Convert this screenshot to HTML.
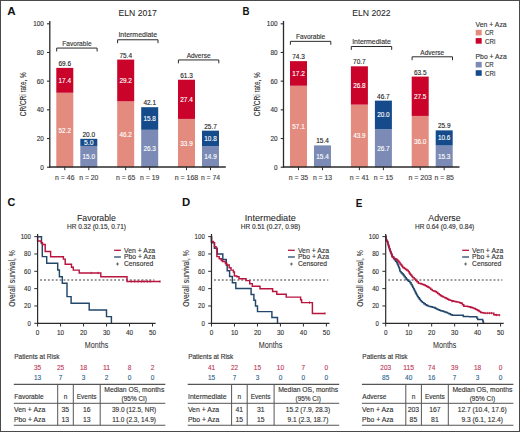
<!DOCTYPE html>
<html><head><meta charset="utf-8"><title>Figure</title>
<style>
html,body{margin:0;padding:0;background:#fff;}
body{width:520px;height:432px;overflow:hidden;}
svg{display:block;font-family:"Liberation Sans", sans-serif;}
</style></head>
<body>
<svg width="520" height="432" viewBox="0 0 520 432">
<rect x="0" y="0" width="520" height="432" fill="#fff"/>
<line x1="49.80" y1="21.00" x2="49.80" y2="167.70" stroke="#2b2b2b" stroke-width="1.3"/>
<line x1="47.00" y1="167.20" x2="49.80" y2="167.20" stroke="#2b2b2b" stroke-width="1.1"/>
<text x="43.80" y="169.70" font-size="7.1" text-anchor="end" fill="#333" stroke="#333" stroke-width="0.13" textLength="3.55" lengthAdjust="spacingAndGlyphs">0</text>
<line x1="47.00" y1="138.52" x2="49.80" y2="138.52" stroke="#2b2b2b" stroke-width="1.1"/>
<text x="43.80" y="141.02" font-size="7.1" text-anchor="end" fill="#333" stroke="#333" stroke-width="0.13" textLength="7.10" lengthAdjust="spacingAndGlyphs">20</text>
<line x1="47.00" y1="109.84" x2="49.80" y2="109.84" stroke="#2b2b2b" stroke-width="1.1"/>
<text x="43.80" y="112.34" font-size="7.1" text-anchor="end" fill="#333" stroke="#333" stroke-width="0.13" textLength="7.10" lengthAdjust="spacingAndGlyphs">40</text>
<line x1="47.00" y1="81.16" x2="49.80" y2="81.16" stroke="#2b2b2b" stroke-width="1.1"/>
<text x="43.80" y="83.66" font-size="7.1" text-anchor="end" fill="#333" stroke="#333" stroke-width="0.13" textLength="7.10" lengthAdjust="spacingAndGlyphs">60</text>
<line x1="47.00" y1="52.48" x2="49.80" y2="52.48" stroke="#2b2b2b" stroke-width="1.1"/>
<text x="43.80" y="54.98" font-size="7.1" text-anchor="end" fill="#333" stroke="#333" stroke-width="0.13" textLength="7.10" lengthAdjust="spacingAndGlyphs">80</text>
<line x1="47.00" y1="23.80" x2="49.80" y2="23.80" stroke="#2b2b2b" stroke-width="1.1"/>
<text x="43.80" y="26.30" font-size="7.1" text-anchor="end" fill="#333" stroke="#333" stroke-width="0.13" textLength="10.65" lengthAdjust="spacingAndGlyphs">100</text>
<text x="23.5" y="94.2" font-size="8.3" text-anchor="middle" fill="#333" stroke="#333" stroke-width="0.13" transform="rotate(-90 23.5 94.2)" dy="2.9" textLength="44" lengthAdjust="spacingAndGlyphs">CR/CRi rate, %</text>
<text x="137.70" y="15.80" font-size="9.6" text-anchor="middle" fill="#222" stroke="#222" stroke-width="0.05" textLength="38.40" lengthAdjust="spacingAndGlyphs">ELN 2017</text>
<rect x="56.30" y="92.75" width="17.00" height="74.65" fill="#E38B7E"/>
<rect x="56.30" y="67.87" width="17.00" height="24.88" fill="#C9032A"/>
<rect x="80.30" y="145.95" width="17.00" height="21.45" fill="#7C8BB5"/>
<rect x="80.30" y="138.80" width="17.00" height="7.15" fill="#154B8A"/>
<text x="64.80" y="132.53" font-size="7.0" text-anchor="middle" fill="#fff" stroke="#fff" stroke-width="0.13" textLength="12.50" lengthAdjust="spacingAndGlyphs">52.2</text>
<text x="64.80" y="82.76" font-size="7.0" text-anchor="middle" fill="#fff" stroke="#fff" stroke-width="0.13" textLength="12.50" lengthAdjust="spacingAndGlyphs">17.4</text>
<text x="88.80" y="159.12" font-size="7.0" text-anchor="middle" fill="#fff" stroke="#fff" stroke-width="0.13" textLength="12.50" lengthAdjust="spacingAndGlyphs">15.0</text>
<text x="88.80" y="144.82" font-size="7.0" text-anchor="middle" fill="#fff" stroke="#fff" stroke-width="0.13" textLength="9.50" lengthAdjust="spacingAndGlyphs">5.0</text>
<text x="64.80" y="65.87" font-size="7.0" text-anchor="middle" fill="#222" stroke="#222" stroke-width="0.13" textLength="12.60" lengthAdjust="spacingAndGlyphs">69.6</text>
<text x="88.80" y="136.80" font-size="7.0" text-anchor="middle" fill="#222" stroke="#222" stroke-width="0.13" textLength="12.60" lengthAdjust="spacingAndGlyphs">20.0</text>
<line x1="64.80" y1="167.00" x2="64.80" y2="170.20" stroke="#2b2b2b" stroke-width="1.0"/>
<line x1="88.80" y1="167.00" x2="88.80" y2="170.20" stroke="#2b2b2b" stroke-width="1.0"/>
<text x="64.80" y="179.70" font-size="6.4" text-anchor="middle" fill="#444" stroke="#444" stroke-width="0.13" textLength="19.40" lengthAdjust="spacingAndGlyphs">n = 46</text>
<text x="88.80" y="179.70" font-size="6.4" text-anchor="middle" fill="#444" stroke="#444" stroke-width="0.13" textLength="19.20" lengthAdjust="spacingAndGlyphs">n = 20</text>
<path d="M56.70,51.47 V48.07 H97.10 V51.47" fill="none" stroke="#2b2b2b" stroke-width="1.0"/>
<text x="76.90" y="45.77" font-size="7.1" text-anchor="middle" fill="#333" stroke="#333" stroke-width="0.13" textLength="29.30" lengthAdjust="spacingAndGlyphs">Favorable</text>
<rect x="117.20" y="101.33" width="17.00" height="66.07" fill="#E38B7E"/>
<rect x="117.20" y="59.58" width="17.00" height="41.76" fill="#C9032A"/>
<rect x="141.20" y="129.79" width="17.00" height="37.61" fill="#7C8BB5"/>
<rect x="141.20" y="107.20" width="17.00" height="22.59" fill="#154B8A"/>
<text x="125.70" y="136.82" font-size="7.0" text-anchor="middle" fill="#fff" stroke="#fff" stroke-width="0.13" textLength="12.50" lengthAdjust="spacingAndGlyphs">46.2</text>
<text x="125.70" y="82.91" font-size="7.0" text-anchor="middle" fill="#fff" stroke="#fff" stroke-width="0.13" textLength="12.50" lengthAdjust="spacingAndGlyphs">29.2</text>
<text x="149.70" y="151.05" font-size="7.0" text-anchor="middle" fill="#fff" stroke="#fff" stroke-width="0.13" textLength="12.50" lengthAdjust="spacingAndGlyphs">26.3</text>
<text x="149.70" y="120.94" font-size="7.0" text-anchor="middle" fill="#fff" stroke="#fff" stroke-width="0.13" textLength="12.50" lengthAdjust="spacingAndGlyphs">15.8</text>
<text x="125.70" y="57.58" font-size="7.0" text-anchor="middle" fill="#222" stroke="#222" stroke-width="0.13" textLength="12.60" lengthAdjust="spacingAndGlyphs">75.4</text>
<text x="149.70" y="105.20" font-size="7.0" text-anchor="middle" fill="#222" stroke="#222" stroke-width="0.13" textLength="12.60" lengthAdjust="spacingAndGlyphs">42.1</text>
<line x1="125.70" y1="167.00" x2="125.70" y2="170.20" stroke="#2b2b2b" stroke-width="1.0"/>
<line x1="149.70" y1="167.00" x2="149.70" y2="170.20" stroke="#2b2b2b" stroke-width="1.0"/>
<text x="125.70" y="179.70" font-size="6.4" text-anchor="middle" fill="#444" stroke="#444" stroke-width="0.13" textLength="19.40" lengthAdjust="spacingAndGlyphs">n = 65</text>
<text x="149.70" y="179.70" font-size="6.4" text-anchor="middle" fill="#444" stroke="#444" stroke-width="0.13" textLength="19.20" lengthAdjust="spacingAndGlyphs">n = 19</text>
<path d="M117.60,43.18 V39.78 H158.00 V43.18" fill="none" stroke="#2b2b2b" stroke-width="1.0"/>
<text x="137.80" y="37.48" font-size="7.1" text-anchor="middle" fill="#333" stroke="#333" stroke-width="0.13" textLength="38.70" lengthAdjust="spacingAndGlyphs">Intermediate</text>
<rect x="178.00" y="118.92" width="17.00" height="48.48" fill="#E38B7E"/>
<rect x="178.00" y="79.74" width="17.00" height="39.18" fill="#C9032A"/>
<rect x="202.00" y="146.09" width="17.00" height="21.31" fill="#7C8BB5"/>
<rect x="202.00" y="130.65" width="17.00" height="15.44" fill="#154B8A"/>
<text x="186.50" y="145.61" font-size="7.0" text-anchor="middle" fill="#fff" stroke="#fff" stroke-width="0.13" textLength="12.50" lengthAdjust="spacingAndGlyphs">33.9</text>
<text x="186.50" y="101.78" font-size="7.0" text-anchor="middle" fill="#fff" stroke="#fff" stroke-width="0.13" textLength="12.50" lengthAdjust="spacingAndGlyphs">27.4</text>
<text x="210.50" y="159.20" font-size="7.0" text-anchor="middle" fill="#fff" stroke="#fff" stroke-width="0.13" textLength="12.50" lengthAdjust="spacingAndGlyphs">14.9</text>
<text x="210.50" y="140.82" font-size="7.0" text-anchor="middle" fill="#fff" stroke="#fff" stroke-width="0.13" textLength="12.50" lengthAdjust="spacingAndGlyphs">10.8</text>
<text x="186.50" y="77.74" font-size="7.0" text-anchor="middle" fill="#222" stroke="#222" stroke-width="0.13" textLength="12.60" lengthAdjust="spacingAndGlyphs">61.3</text>
<text x="210.50" y="128.65" font-size="7.0" text-anchor="middle" fill="#222" stroke="#222" stroke-width="0.13" textLength="12.60" lengthAdjust="spacingAndGlyphs">25.7</text>
<line x1="186.50" y1="167.00" x2="186.50" y2="170.20" stroke="#2b2b2b" stroke-width="1.0"/>
<line x1="210.50" y1="167.00" x2="210.50" y2="170.20" stroke="#2b2b2b" stroke-width="1.0"/>
<text x="186.50" y="179.70" font-size="6.4" text-anchor="middle" fill="#444" stroke="#444" stroke-width="0.13" textLength="23.50" lengthAdjust="spacingAndGlyphs">n = 168</text>
<text x="210.50" y="179.70" font-size="6.4" text-anchor="middle" fill="#444" stroke="#444" stroke-width="0.13" textLength="19.20" lengthAdjust="spacingAndGlyphs">n = 74</text>
<path d="M178.40,63.34 V59.94 H218.80 V63.34" fill="none" stroke="#2b2b2b" stroke-width="1.0"/>
<text x="198.60" y="57.64" font-size="7.1" text-anchor="middle" fill="#333" stroke="#333" stroke-width="0.13" textLength="23.90" lengthAdjust="spacingAndGlyphs">Adverse</text>
<line x1="49.20" y1="167.00" x2="225.80" y2="167.00" stroke="#2b2b2b" stroke-width="1.3"/>
<line x1="283.50" y1="21.00" x2="283.50" y2="167.70" stroke="#2b2b2b" stroke-width="1.3"/>
<line x1="280.70" y1="167.20" x2="283.50" y2="167.20" stroke="#2b2b2b" stroke-width="1.1"/>
<text x="277.50" y="169.70" font-size="7.1" text-anchor="end" fill="#333" stroke="#333" stroke-width="0.13" textLength="3.55" lengthAdjust="spacingAndGlyphs">0</text>
<line x1="280.70" y1="138.52" x2="283.50" y2="138.52" stroke="#2b2b2b" stroke-width="1.1"/>
<text x="277.50" y="141.02" font-size="7.1" text-anchor="end" fill="#333" stroke="#333" stroke-width="0.13" textLength="7.10" lengthAdjust="spacingAndGlyphs">20</text>
<line x1="280.70" y1="109.84" x2="283.50" y2="109.84" stroke="#2b2b2b" stroke-width="1.1"/>
<text x="277.50" y="112.34" font-size="7.1" text-anchor="end" fill="#333" stroke="#333" stroke-width="0.13" textLength="7.10" lengthAdjust="spacingAndGlyphs">40</text>
<line x1="280.70" y1="81.16" x2="283.50" y2="81.16" stroke="#2b2b2b" stroke-width="1.1"/>
<text x="277.50" y="83.66" font-size="7.1" text-anchor="end" fill="#333" stroke="#333" stroke-width="0.13" textLength="7.10" lengthAdjust="spacingAndGlyphs">60</text>
<line x1="280.70" y1="52.48" x2="283.50" y2="52.48" stroke="#2b2b2b" stroke-width="1.1"/>
<text x="277.50" y="54.98" font-size="7.1" text-anchor="end" fill="#333" stroke="#333" stroke-width="0.13" textLength="7.10" lengthAdjust="spacingAndGlyphs">80</text>
<line x1="280.70" y1="23.80" x2="283.50" y2="23.80" stroke="#2b2b2b" stroke-width="1.1"/>
<text x="277.50" y="26.30" font-size="7.1" text-anchor="end" fill="#333" stroke="#333" stroke-width="0.13" textLength="10.65" lengthAdjust="spacingAndGlyphs">100</text>
<text x="257.2" y="94.2" font-size="8.3" text-anchor="middle" fill="#333" stroke="#333" stroke-width="0.13" transform="rotate(-90 257.2 94.2)" dy="2.9" textLength="44" lengthAdjust="spacingAndGlyphs">CR/CRi rate, %</text>
<text x="371.40" y="15.80" font-size="9.6" text-anchor="middle" fill="#222" stroke="#222" stroke-width="0.05" textLength="38.40" lengthAdjust="spacingAndGlyphs">ELN 2022</text>
<rect x="290.00" y="85.75" width="17.00" height="81.65" fill="#E38B7E"/>
<rect x="290.00" y="61.15" width="17.00" height="24.60" fill="#C9032A"/>
<rect x="314.00" y="145.38" width="17.00" height="22.02" fill="#7C8BB5"/>
<text x="298.50" y="129.02" font-size="7.0" text-anchor="middle" fill="#fff" stroke="#fff" stroke-width="0.13" textLength="12.50" lengthAdjust="spacingAndGlyphs">57.1</text>
<text x="298.50" y="75.90" font-size="7.0" text-anchor="middle" fill="#fff" stroke="#fff" stroke-width="0.13" textLength="12.50" lengthAdjust="spacingAndGlyphs">17.2</text>
<text x="322.50" y="158.84" font-size="7.0" text-anchor="middle" fill="#fff" stroke="#fff" stroke-width="0.13" textLength="12.50" lengthAdjust="spacingAndGlyphs">15.4</text>
<text x="298.50" y="59.15" font-size="7.0" text-anchor="middle" fill="#222" stroke="#222" stroke-width="0.13" textLength="12.60" lengthAdjust="spacingAndGlyphs">74.3</text>
<text x="322.50" y="143.38" font-size="7.0" text-anchor="middle" fill="#222" stroke="#222" stroke-width="0.13" textLength="12.60" lengthAdjust="spacingAndGlyphs">15.4</text>
<line x1="298.50" y1="167.00" x2="298.50" y2="170.20" stroke="#2b2b2b" stroke-width="1.0"/>
<line x1="322.50" y1="167.00" x2="322.50" y2="170.20" stroke="#2b2b2b" stroke-width="1.0"/>
<text x="298.50" y="179.70" font-size="6.4" text-anchor="middle" fill="#444" stroke="#444" stroke-width="0.13" textLength="19.40" lengthAdjust="spacingAndGlyphs">n = 35</text>
<text x="322.50" y="179.70" font-size="6.4" text-anchor="middle" fill="#444" stroke="#444" stroke-width="0.13" textLength="19.20" lengthAdjust="spacingAndGlyphs">n = 13</text>
<path d="M290.40,44.75 V41.35 H330.80 V44.75" fill="none" stroke="#2b2b2b" stroke-width="1.0"/>
<text x="310.60" y="39.05" font-size="7.1" text-anchor="middle" fill="#333" stroke="#333" stroke-width="0.13" textLength="29.30" lengthAdjust="spacingAndGlyphs">Favorable</text>
<rect x="350.90" y="104.62" width="17.00" height="62.78" fill="#E38B7E"/>
<rect x="350.90" y="66.30" width="17.00" height="38.32" fill="#C9032A"/>
<rect x="374.90" y="129.22" width="17.00" height="38.18" fill="#7C8BB5"/>
<rect x="374.90" y="100.62" width="17.00" height="28.60" fill="#154B8A"/>
<text x="359.40" y="138.46" font-size="7.0" text-anchor="middle" fill="#fff" stroke="#fff" stroke-width="0.13" textLength="12.50" lengthAdjust="spacingAndGlyphs">43.9</text>
<text x="359.40" y="87.91" font-size="7.0" text-anchor="middle" fill="#fff" stroke="#fff" stroke-width="0.13" textLength="12.50" lengthAdjust="spacingAndGlyphs">26.8</text>
<text x="383.40" y="150.76" font-size="7.0" text-anchor="middle" fill="#fff" stroke="#fff" stroke-width="0.13" textLength="12.50" lengthAdjust="spacingAndGlyphs">26.7</text>
<text x="383.40" y="117.37" font-size="7.0" text-anchor="middle" fill="#fff" stroke="#fff" stroke-width="0.13" textLength="12.50" lengthAdjust="spacingAndGlyphs">20.0</text>
<text x="359.40" y="64.30" font-size="7.0" text-anchor="middle" fill="#222" stroke="#222" stroke-width="0.13" textLength="12.60" lengthAdjust="spacingAndGlyphs">70.7</text>
<text x="383.40" y="98.62" font-size="7.0" text-anchor="middle" fill="#222" stroke="#222" stroke-width="0.13" textLength="12.60" lengthAdjust="spacingAndGlyphs">46.7</text>
<line x1="359.40" y1="167.00" x2="359.40" y2="170.20" stroke="#2b2b2b" stroke-width="1.0"/>
<line x1="383.40" y1="167.00" x2="383.40" y2="170.20" stroke="#2b2b2b" stroke-width="1.0"/>
<text x="359.40" y="179.70" font-size="6.4" text-anchor="middle" fill="#444" stroke="#444" stroke-width="0.13" textLength="19.40" lengthAdjust="spacingAndGlyphs">n = 41</text>
<text x="383.40" y="179.70" font-size="6.4" text-anchor="middle" fill="#444" stroke="#444" stroke-width="0.13" textLength="19.20" lengthAdjust="spacingAndGlyphs">n = 15</text>
<path d="M351.30,49.90 V46.50 H391.70 V49.90" fill="none" stroke="#2b2b2b" stroke-width="1.0"/>
<text x="371.50" y="44.20" font-size="7.1" text-anchor="middle" fill="#333" stroke="#333" stroke-width="0.13" textLength="38.70" lengthAdjust="spacingAndGlyphs">Intermediate</text>
<rect x="411.70" y="115.92" width="17.00" height="51.48" fill="#E38B7E"/>
<rect x="411.70" y="76.60" width="17.00" height="39.33" fill="#C9032A"/>
<rect x="435.70" y="145.52" width="17.00" height="21.88" fill="#7C8BB5"/>
<rect x="435.70" y="130.36" width="17.00" height="15.16" fill="#154B8A"/>
<text x="420.20" y="144.11" font-size="7.0" text-anchor="middle" fill="#fff" stroke="#fff" stroke-width="0.13" textLength="12.50" lengthAdjust="spacingAndGlyphs">36.0</text>
<text x="420.20" y="98.71" font-size="7.0" text-anchor="middle" fill="#fff" stroke="#fff" stroke-width="0.13" textLength="12.50" lengthAdjust="spacingAndGlyphs">27.5</text>
<text x="444.20" y="158.91" font-size="7.0" text-anchor="middle" fill="#fff" stroke="#fff" stroke-width="0.13" textLength="12.50" lengthAdjust="spacingAndGlyphs">15.3</text>
<text x="444.20" y="140.39" font-size="7.0" text-anchor="middle" fill="#fff" stroke="#fff" stroke-width="0.13" textLength="12.50" lengthAdjust="spacingAndGlyphs">10.6</text>
<text x="420.20" y="74.60" font-size="7.0" text-anchor="middle" fill="#222" stroke="#222" stroke-width="0.13" textLength="12.60" lengthAdjust="spacingAndGlyphs">63.5</text>
<text x="444.20" y="128.36" font-size="7.0" text-anchor="middle" fill="#222" stroke="#222" stroke-width="0.13" textLength="12.60" lengthAdjust="spacingAndGlyphs">25.9</text>
<line x1="420.20" y1="167.00" x2="420.20" y2="170.20" stroke="#2b2b2b" stroke-width="1.0"/>
<line x1="444.20" y1="167.00" x2="444.20" y2="170.20" stroke="#2b2b2b" stroke-width="1.0"/>
<text x="420.20" y="179.70" font-size="6.4" text-anchor="middle" fill="#444" stroke="#444" stroke-width="0.13" textLength="23.50" lengthAdjust="spacingAndGlyphs">n = 203</text>
<text x="444.20" y="179.70" font-size="6.4" text-anchor="middle" fill="#444" stroke="#444" stroke-width="0.13" textLength="19.20" lengthAdjust="spacingAndGlyphs">n = 85</text>
<path d="M412.10,60.20 V56.80 H452.50 V60.20" fill="none" stroke="#2b2b2b" stroke-width="1.0"/>
<text x="432.30" y="54.50" font-size="7.1" text-anchor="middle" fill="#333" stroke="#333" stroke-width="0.13" textLength="23.90" lengthAdjust="spacingAndGlyphs">Adverse</text>
<line x1="282.90" y1="167.00" x2="459.50" y2="167.00" stroke="#2b2b2b" stroke-width="1.3"/>
<text x="475.60" y="26.50" font-size="6.9" text-anchor="start" fill="#333" stroke="#333" stroke-width="0.13" textLength="31.10" lengthAdjust="spacingAndGlyphs">Ven + Aza</text>
<rect x="475.70" y="29.80" width="6.00" height="5.60" fill="#E38B7E"/>
<text x="485.00" y="35.20" font-size="6.9" text-anchor="start" fill="#333" stroke="#333" stroke-width="0.13" textLength="8.70" lengthAdjust="spacingAndGlyphs">CR</text>
<rect x="475.70" y="38.10" width="6.00" height="5.60" fill="#C9032A"/>
<text x="485.00" y="43.50" font-size="6.9" text-anchor="start" fill="#333" stroke="#333" stroke-width="0.13" textLength="10.30" lengthAdjust="spacingAndGlyphs">CRi</text>
<text x="475.60" y="58.50" font-size="6.9" text-anchor="start" fill="#333" stroke="#333" stroke-width="0.13" textLength="31.10" lengthAdjust="spacingAndGlyphs">Pbo + Aza</text>
<rect x="475.70" y="61.90" width="6.00" height="5.60" fill="#7C8BB5"/>
<text x="485.00" y="67.30" font-size="6.9" text-anchor="start" fill="#333" stroke="#333" stroke-width="0.13" textLength="8.70" lengthAdjust="spacingAndGlyphs">CR</text>
<rect x="475.70" y="70.20" width="6.00" height="5.60" fill="#154B8A"/>
<text x="485.00" y="75.60" font-size="6.9" text-anchor="start" fill="#333" stroke="#333" stroke-width="0.13" textLength="10.30" lengthAdjust="spacingAndGlyphs">CRi</text>
<text x="7.20" y="15.20" font-size="11.4" text-anchor="start" fill="#111" font-weight="bold" textLength="8.40" lengthAdjust="spacingAndGlyphs">A</text>
<text x="242.50" y="15.10" font-size="11.4" text-anchor="start" fill="#111" font-weight="bold" textLength="7.00" lengthAdjust="spacingAndGlyphs">B</text>
<text x="7.40" y="206.40" font-size="11.4" text-anchor="start" fill="#111" font-weight="bold" textLength="7.80" lengthAdjust="spacingAndGlyphs">C</text>
<text x="182.00" y="206.30" font-size="11.4" text-anchor="start" fill="#111" font-weight="bold" textLength="8.20" lengthAdjust="spacingAndGlyphs">D</text>
<text x="355.70" y="206.60" font-size="11.4" text-anchor="start" fill="#111" font-weight="bold" textLength="6.60" lengthAdjust="spacingAndGlyphs">E</text>
<line x1="34.30" y1="323.30" x2="37.60" y2="323.30" stroke="#2b2b2b" stroke-width="1.0"/>
<text x="30.90" y="325.80" font-size="7.1" text-anchor="end" fill="#333" stroke="#333" stroke-width="0.13" textLength="3.40" lengthAdjust="spacingAndGlyphs">0</text>
<line x1="34.30" y1="305.97" x2="37.60" y2="305.97" stroke="#2b2b2b" stroke-width="1.0"/>
<text x="30.90" y="308.47" font-size="7.1" text-anchor="end" fill="#333" stroke="#333" stroke-width="0.13" textLength="6.80" lengthAdjust="spacingAndGlyphs">20</text>
<line x1="34.30" y1="288.64" x2="37.60" y2="288.64" stroke="#2b2b2b" stroke-width="1.0"/>
<text x="30.90" y="291.14" font-size="7.1" text-anchor="end" fill="#333" stroke="#333" stroke-width="0.13" textLength="6.80" lengthAdjust="spacingAndGlyphs">40</text>
<line x1="34.30" y1="271.31" x2="37.60" y2="271.31" stroke="#2b2b2b" stroke-width="1.0"/>
<text x="30.90" y="273.81" font-size="7.1" text-anchor="end" fill="#333" stroke="#333" stroke-width="0.13" textLength="6.80" lengthAdjust="spacingAndGlyphs">60</text>
<line x1="34.30" y1="253.98" x2="37.60" y2="253.98" stroke="#2b2b2b" stroke-width="1.0"/>
<text x="30.90" y="256.48" font-size="7.1" text-anchor="end" fill="#333" stroke="#333" stroke-width="0.13" textLength="6.80" lengthAdjust="spacingAndGlyphs">80</text>
<line x1="34.30" y1="236.65" x2="37.60" y2="236.65" stroke="#2b2b2b" stroke-width="1.0"/>
<text x="30.90" y="239.15" font-size="7.1" text-anchor="end" fill="#333" stroke="#333" stroke-width="0.13" textLength="10.20" lengthAdjust="spacingAndGlyphs">100</text>
<line x1="37.60" y1="323.30" x2="37.60" y2="326.50" stroke="#2b2b2b" stroke-width="1.0"/>
<text x="37.60" y="335.30" font-size="7.3" text-anchor="middle" fill="#333" stroke="#333" stroke-width="0.13" textLength="3.55" lengthAdjust="spacingAndGlyphs">0</text>
<line x1="60.58" y1="323.30" x2="60.58" y2="326.50" stroke="#2b2b2b" stroke-width="1.0"/>
<text x="60.58" y="335.30" font-size="7.3" text-anchor="middle" fill="#333" stroke="#333" stroke-width="0.13" textLength="7.10" lengthAdjust="spacingAndGlyphs">10</text>
<line x1="83.56" y1="323.30" x2="83.56" y2="326.50" stroke="#2b2b2b" stroke-width="1.0"/>
<text x="83.56" y="335.30" font-size="7.3" text-anchor="middle" fill="#333" stroke="#333" stroke-width="0.13" textLength="7.10" lengthAdjust="spacingAndGlyphs">20</text>
<line x1="106.54" y1="323.30" x2="106.54" y2="326.50" stroke="#2b2b2b" stroke-width="1.0"/>
<text x="106.54" y="335.30" font-size="7.3" text-anchor="middle" fill="#333" stroke="#333" stroke-width="0.13" textLength="7.10" lengthAdjust="spacingAndGlyphs">30</text>
<line x1="129.52" y1="323.30" x2="129.52" y2="326.50" stroke="#2b2b2b" stroke-width="1.0"/>
<text x="129.52" y="335.30" font-size="7.3" text-anchor="middle" fill="#333" stroke="#333" stroke-width="0.13" textLength="7.10" lengthAdjust="spacingAndGlyphs">40</text>
<line x1="152.50" y1="323.30" x2="152.50" y2="326.50" stroke="#2b2b2b" stroke-width="1.0"/>
<text x="152.50" y="335.30" font-size="7.3" text-anchor="middle" fill="#333" stroke="#333" stroke-width="0.13" textLength="7.10" lengthAdjust="spacingAndGlyphs">50</text>
<text x="11.8" y="278.5" font-size="8.9" text-anchor="middle" fill="#333" stroke="#333" stroke-width="0.13" transform="rotate(-90 11.8 278.5)" dy="3.1" textLength="56.5" lengthAdjust="spacingAndGlyphs">Overall survival, %</text>
<text x="96.60" y="347.70" font-size="9.0" text-anchor="middle" fill="#333" stroke="#333" stroke-width="0.05" textLength="23.50" lengthAdjust="spacingAndGlyphs">Months</text>
<text x="96.40" y="220.70" font-size="8.4" text-anchor="middle" fill="#222" stroke="#222" stroke-width="0.05" textLength="38.90" lengthAdjust="spacingAndGlyphs">Favorable</text>
<text x="96.50" y="228.50" font-size="6.3" text-anchor="middle" fill="#333" stroke="#333" stroke-width="0.13" textLength="59.10" lengthAdjust="spacingAndGlyphs">HR 0.32 (0.15, 0.71)</text>
<line x1="40.10" y1="279.98" x2="154.34" y2="279.98" stroke="#7a7a7a" stroke-width="1.5" stroke-dasharray="1.9 2.0"/>
<g transform="translate(0.00,0)">
<path d="M37.6,236.65 H41.5 V243.3 H42.3 V256.6 H46.7 V263.3 H57.7 V270 H59.4 V276.7 H62.3 V283.3 H67 V296.6 H71.1 V303.3 H89.2 V310 H106.5 V316.6 H111.4 V323.3" fill="none" stroke="#22476B" stroke-width="1.45" stroke-linejoin="miter"/>
<path d="M37.6,236.65 V240.9 H41.2 V242.6 H42.5 V244.4 H45.2 V251.5 H50.6 V256.7 H63.4 V259.1 H65.2 V264.3 H71.5 V267.2 H73.3 V270.1 H79.2 V273 H100.8 V276.8 H127 V281.5 H160.3" fill="none" stroke="#B8143E" stroke-width="1.45" stroke-linejoin="miter"/>
<line x1="91.20" y1="271.80" x2="91.20" y2="274.20" stroke="#B8143E" stroke-width="0.8"/>
<line x1="98.10" y1="271.80" x2="98.10" y2="274.20" stroke="#B8143E" stroke-width="0.8"/>
<line x1="131.30" y1="280.30" x2="131.30" y2="282.70" stroke="#B8143E" stroke-width="0.8"/>
<line x1="134.70" y1="280.30" x2="134.70" y2="282.70" stroke="#B8143E" stroke-width="0.8"/>
<line x1="138.10" y1="280.30" x2="138.10" y2="282.70" stroke="#B8143E" stroke-width="0.8"/>
<line x1="141.40" y1="280.30" x2="141.40" y2="282.70" stroke="#B8143E" stroke-width="0.8"/>
<line x1="144.10" y1="280.30" x2="144.10" y2="282.70" stroke="#B8143E" stroke-width="0.8"/>
<line x1="147.50" y1="280.30" x2="147.50" y2="282.70" stroke="#B8143E" stroke-width="0.8"/>
<line x1="150.20" y1="280.30" x2="150.20" y2="282.70" stroke="#B8143E" stroke-width="0.8"/>
<line x1="160.00" y1="280.30" x2="160.00" y2="282.70" stroke="#B8143E" stroke-width="0.8"/>
</g>
<line x1="37.60" y1="234.00" x2="37.60" y2="323.60" stroke="#2b2b2b" stroke-width="1.2"/>
<line x1="37.00" y1="323.30" x2="155.60" y2="323.30" stroke="#2b2b2b" stroke-width="1.2"/>
<line x1="114.10" y1="250.30" x2="120.90" y2="250.30" stroke="#B8143E" stroke-width="1.3"/>
<text x="124.00" y="252.70" font-size="6.9" text-anchor="start" fill="#333" stroke="#333" stroke-width="0.13" textLength="31.20" lengthAdjust="spacingAndGlyphs">Ven + Aza</text>
<line x1="114.10" y1="257.00" x2="120.90" y2="257.00" stroke="#22476B" stroke-width="1.3"/>
<text x="124.00" y="259.40" font-size="6.9" text-anchor="start" fill="#333" stroke="#333" stroke-width="0.13" textLength="31.20" lengthAdjust="spacingAndGlyphs">Pbo + Aza</text>
<line x1="116.00" y1="264.00" x2="119.00" y2="264.00" stroke="#555" stroke-width="0.85"/>
<line x1="117.50" y1="262.50" x2="117.50" y2="265.50" stroke="#555" stroke-width="0.85"/>
<text x="124.00" y="266.40" font-size="6.9" text-anchor="start" fill="#333" stroke="#333" stroke-width="0.13" textLength="29.20" lengthAdjust="spacingAndGlyphs">Censored</text>
<text x="14.25" y="358.50" font-size="6.6" text-anchor="start" fill="#333" stroke="#333" stroke-width="0.13" textLength="45.20" lengthAdjust="spacingAndGlyphs">Patients at Risk</text>
<text x="37.60" y="369.80" font-size="7.3" text-anchor="middle" fill="#BE3A5B" stroke="#BE3A5B" stroke-width="0.13" textLength="7.20" lengthAdjust="spacingAndGlyphs">35</text>
<text x="37.60" y="380.10" font-size="7.3" text-anchor="middle" fill="#2F6690" stroke="#2F6690" stroke-width="0.13" textLength="7.20" lengthAdjust="spacingAndGlyphs">13</text>
<text x="60.58" y="369.80" font-size="7.3" text-anchor="middle" fill="#BE3A5B" stroke="#BE3A5B" stroke-width="0.13" textLength="7.20" lengthAdjust="spacingAndGlyphs">25</text>
<text x="60.58" y="380.10" font-size="7.3" text-anchor="middle" fill="#2F6690" stroke="#2F6690" stroke-width="0.13" textLength="3.60" lengthAdjust="spacingAndGlyphs">7</text>
<text x="83.56" y="369.80" font-size="7.3" text-anchor="middle" fill="#BE3A5B" stroke="#BE3A5B" stroke-width="0.13" textLength="7.20" lengthAdjust="spacingAndGlyphs">18</text>
<text x="83.56" y="380.10" font-size="7.3" text-anchor="middle" fill="#2F6690" stroke="#2F6690" stroke-width="0.13" textLength="3.60" lengthAdjust="spacingAndGlyphs">3</text>
<text x="106.54" y="369.80" font-size="7.3" text-anchor="middle" fill="#BE3A5B" stroke="#BE3A5B" stroke-width="0.13" textLength="7.20" lengthAdjust="spacingAndGlyphs">11</text>
<text x="106.54" y="380.10" font-size="7.3" text-anchor="middle" fill="#2F6690" stroke="#2F6690" stroke-width="0.13" textLength="3.60" lengthAdjust="spacingAndGlyphs">2</text>
<text x="129.52" y="369.80" font-size="7.3" text-anchor="middle" fill="#BE3A5B" stroke="#BE3A5B" stroke-width="0.13" textLength="3.60" lengthAdjust="spacingAndGlyphs">8</text>
<text x="129.52" y="380.10" font-size="7.3" text-anchor="middle" fill="#2F6690" stroke="#2F6690" stroke-width="0.13" textLength="3.60" lengthAdjust="spacingAndGlyphs">0</text>
<text x="152.50" y="369.80" font-size="7.3" text-anchor="middle" fill="#BE3A5B" stroke="#BE3A5B" stroke-width="0.13" textLength="3.60" lengthAdjust="spacingAndGlyphs">2</text>
<text x="152.50" y="380.10" font-size="7.3" text-anchor="middle" fill="#2F6690" stroke="#2F6690" stroke-width="0.13" textLength="3.60" lengthAdjust="spacingAndGlyphs">0</text>
<line x1="13.80" y1="384.40" x2="165.30" y2="384.40" stroke="#555" stroke-width="1.1"/>
<line x1="13.80" y1="403.30" x2="165.30" y2="403.30" stroke="#555" stroke-width="1.0"/>
<line x1="13.80" y1="425.30" x2="165.30" y2="425.30" stroke="#555" stroke-width="1.1"/>
<line x1="57.70" y1="384.40" x2="57.70" y2="425.30" stroke="#555" stroke-width="1.0"/>
<line x1="73.30" y1="384.40" x2="73.30" y2="425.30" stroke="#555" stroke-width="1.0"/>
<line x1="100.20" y1="384.40" x2="100.20" y2="425.30" stroke="#555" stroke-width="1.0"/>
<text x="14.20" y="398.90" font-size="6.6" text-anchor="start" fill="#333" stroke="#333" stroke-width="0.13" textLength="29.40" lengthAdjust="spacingAndGlyphs">Favorable</text>
<text x="65.50" y="398.90" font-size="6.6" text-anchor="middle" fill="#333" stroke="#333" stroke-width="0.13">n</text>
<text x="86.70" y="398.90" font-size="6.6" text-anchor="middle" fill="#333" stroke="#333" stroke-width="0.13" textLength="19.80" lengthAdjust="spacingAndGlyphs">Events</text>
<text x="134.30" y="392.20" font-size="6.6" text-anchor="middle" fill="#333" stroke="#333" stroke-width="0.13" textLength="60.00" lengthAdjust="spacingAndGlyphs">Median OS, months</text>
<text x="134.30" y="400.90" font-size="6.6" text-anchor="middle" fill="#333" stroke="#333" stroke-width="0.13" textLength="25.40" lengthAdjust="spacingAndGlyphs">(95% CI)</text>
<text x="14.00" y="411.80" font-size="6.6" text-anchor="start" fill="#333" stroke="#333" stroke-width="0.13" textLength="31.30" lengthAdjust="spacingAndGlyphs">Ven + Aza</text>
<text x="65.30" y="411.80" font-size="6.6" text-anchor="middle" fill="#333" stroke="#333" stroke-width="0.13" textLength="7.60" lengthAdjust="spacingAndGlyphs">35</text>
<text x="86.80" y="411.80" font-size="6.6" text-anchor="middle" fill="#333" stroke="#333" stroke-width="0.13" textLength="7.60" lengthAdjust="spacingAndGlyphs">16</text>
<text x="134.10" y="411.80" font-size="6.6" text-anchor="middle" fill="#333" stroke="#333" stroke-width="0.13" textLength="44.30" lengthAdjust="spacingAndGlyphs">39.0 (12.5, NR)</text>
<text x="14.00" y="421.70" font-size="6.6" text-anchor="start" fill="#333" stroke="#333" stroke-width="0.13" textLength="31.30" lengthAdjust="spacingAndGlyphs">Pbo + Aza</text>
<text x="65.30" y="421.70" font-size="6.6" text-anchor="middle" fill="#333" stroke="#333" stroke-width="0.13" textLength="7.60" lengthAdjust="spacingAndGlyphs">13</text>
<text x="86.80" y="421.70" font-size="6.6" text-anchor="middle" fill="#333" stroke="#333" stroke-width="0.13" textLength="7.60" lengthAdjust="spacingAndGlyphs">13</text>
<text x="134.10" y="421.70" font-size="6.6" text-anchor="middle" fill="#333" stroke="#333" stroke-width="0.13" textLength="43.70" lengthAdjust="spacingAndGlyphs">11.0 (2.3, 14.9)</text>
<line x1="208.20" y1="323.30" x2="211.50" y2="323.30" stroke="#2b2b2b" stroke-width="1.0"/>
<text x="204.80" y="325.80" font-size="7.1" text-anchor="end" fill="#333" stroke="#333" stroke-width="0.13" textLength="3.40" lengthAdjust="spacingAndGlyphs">0</text>
<line x1="208.20" y1="305.97" x2="211.50" y2="305.97" stroke="#2b2b2b" stroke-width="1.0"/>
<text x="204.80" y="308.47" font-size="7.1" text-anchor="end" fill="#333" stroke="#333" stroke-width="0.13" textLength="6.80" lengthAdjust="spacingAndGlyphs">20</text>
<line x1="208.20" y1="288.64" x2="211.50" y2="288.64" stroke="#2b2b2b" stroke-width="1.0"/>
<text x="204.80" y="291.14" font-size="7.1" text-anchor="end" fill="#333" stroke="#333" stroke-width="0.13" textLength="6.80" lengthAdjust="spacingAndGlyphs">40</text>
<line x1="208.20" y1="271.31" x2="211.50" y2="271.31" stroke="#2b2b2b" stroke-width="1.0"/>
<text x="204.80" y="273.81" font-size="7.1" text-anchor="end" fill="#333" stroke="#333" stroke-width="0.13" textLength="6.80" lengthAdjust="spacingAndGlyphs">60</text>
<line x1="208.20" y1="253.98" x2="211.50" y2="253.98" stroke="#2b2b2b" stroke-width="1.0"/>
<text x="204.80" y="256.48" font-size="7.1" text-anchor="end" fill="#333" stroke="#333" stroke-width="0.13" textLength="6.80" lengthAdjust="spacingAndGlyphs">80</text>
<line x1="208.20" y1="236.65" x2="211.50" y2="236.65" stroke="#2b2b2b" stroke-width="1.0"/>
<text x="204.80" y="239.15" font-size="7.1" text-anchor="end" fill="#333" stroke="#333" stroke-width="0.13" textLength="10.20" lengthAdjust="spacingAndGlyphs">100</text>
<line x1="211.50" y1="323.30" x2="211.50" y2="326.50" stroke="#2b2b2b" stroke-width="1.0"/>
<text x="211.50" y="335.30" font-size="7.3" text-anchor="middle" fill="#333" stroke="#333" stroke-width="0.13" textLength="3.55" lengthAdjust="spacingAndGlyphs">0</text>
<line x1="234.48" y1="323.30" x2="234.48" y2="326.50" stroke="#2b2b2b" stroke-width="1.0"/>
<text x="234.48" y="335.30" font-size="7.3" text-anchor="middle" fill="#333" stroke="#333" stroke-width="0.13" textLength="7.10" lengthAdjust="spacingAndGlyphs">10</text>
<line x1="257.46" y1="323.30" x2="257.46" y2="326.50" stroke="#2b2b2b" stroke-width="1.0"/>
<text x="257.46" y="335.30" font-size="7.3" text-anchor="middle" fill="#333" stroke="#333" stroke-width="0.13" textLength="7.10" lengthAdjust="spacingAndGlyphs">20</text>
<line x1="280.44" y1="323.30" x2="280.44" y2="326.50" stroke="#2b2b2b" stroke-width="1.0"/>
<text x="280.44" y="335.30" font-size="7.3" text-anchor="middle" fill="#333" stroke="#333" stroke-width="0.13" textLength="7.10" lengthAdjust="spacingAndGlyphs">30</text>
<line x1="303.42" y1="323.30" x2="303.42" y2="326.50" stroke="#2b2b2b" stroke-width="1.0"/>
<text x="303.42" y="335.30" font-size="7.3" text-anchor="middle" fill="#333" stroke="#333" stroke-width="0.13" textLength="7.10" lengthAdjust="spacingAndGlyphs">40</text>
<line x1="326.40" y1="323.30" x2="326.40" y2="326.50" stroke="#2b2b2b" stroke-width="1.0"/>
<text x="326.40" y="335.30" font-size="7.3" text-anchor="middle" fill="#333" stroke="#333" stroke-width="0.13" textLength="7.10" lengthAdjust="spacingAndGlyphs">50</text>
<text x="185.70000000000002" y="278.5" font-size="8.9" text-anchor="middle" fill="#333" stroke="#333" stroke-width="0.13" transform="rotate(-90 185.70000000000002 278.5)" dy="3.1" textLength="56.5" lengthAdjust="spacingAndGlyphs">Overall survival, %</text>
<text x="270.50" y="347.70" font-size="9.0" text-anchor="middle" fill="#333" stroke="#333" stroke-width="0.05" textLength="23.50" lengthAdjust="spacingAndGlyphs">Months</text>
<text x="270.30" y="220.70" font-size="8.4" text-anchor="middle" fill="#222" stroke="#222" stroke-width="0.05" textLength="51.00" lengthAdjust="spacingAndGlyphs">Intermediate</text>
<text x="270.40" y="228.50" font-size="6.3" text-anchor="middle" fill="#333" stroke="#333" stroke-width="0.13" textLength="59.40" lengthAdjust="spacingAndGlyphs">HR 0.51 (0.27, 0.98)</text>
<line x1="214.00" y1="279.98" x2="328.24" y2="279.98" stroke="#7a7a7a" stroke-width="1.5" stroke-dasharray="1.9 2.0"/>
<g transform="translate(173.90,0)">
<path d="M37.60,236.2 V242.5 H40.50 V248.2 H43.40 V253.9 H48.90 V259.4 H52.40 V265.3 H53.30 V270.8 H55.70 V276.4 H58.50 V282.8 H61.90 V288.4 H77.20 V294.4 H80.00 V300.2 H81.60 V306 H83.60 V311.6 H98.00 V317.5 H103.60 V323.3" fill="none" stroke="#22476B" stroke-width="1.45" stroke-linejoin="miter"/>
<path d="M37.60,236.2 V241.4 H39.30 V242.7 H40.60 V246.6 H42.20 V248.6 H43.00 V256.6 H45.30 V258.7 H47.35 V260.4 H48.70 V261.5 H51.50 V263.5 H52.90 V264.9 H55.30 V267.7 H57.10 V270.1 H59.50 V271.9 H60.50 V276 H63.00 V276.7 H65.10 V278.8 H72.10 V280.6 H75.80 V283.6 H78.40 V286.3 H86.10 V288.7 H98.70 V291.5 H102.90 V294.2 H112.30 V297.1 H126.70 V299.7 H127.70 V302.6 H138.50 V313.4 H151.30" fill="none" stroke="#B8143E" stroke-width="1.45" stroke-linejoin="miter"/>
<line x1="76.00" y1="282.40" x2="76.00" y2="284.80" stroke="#B8143E" stroke-width="0.8"/>
<line x1="135.60" y1="301.40" x2="135.60" y2="303.80" stroke="#B8143E" stroke-width="0.8"/>
<line x1="151.10" y1="312.20" x2="151.10" y2="314.60" stroke="#B8143E" stroke-width="0.8"/>
</g>
<line x1="211.50" y1="234.00" x2="211.50" y2="323.60" stroke="#2b2b2b" stroke-width="1.2"/>
<line x1="210.90" y1="323.30" x2="329.50" y2="323.30" stroke="#2b2b2b" stroke-width="1.2"/>
<line x1="288.00" y1="250.30" x2="294.80" y2="250.30" stroke="#B8143E" stroke-width="1.3"/>
<text x="297.90" y="252.70" font-size="6.9" text-anchor="start" fill="#333" stroke="#333" stroke-width="0.13" textLength="31.20" lengthAdjust="spacingAndGlyphs">Ven + Aza</text>
<line x1="288.00" y1="257.00" x2="294.80" y2="257.00" stroke="#22476B" stroke-width="1.3"/>
<text x="297.90" y="259.40" font-size="6.9" text-anchor="start" fill="#333" stroke="#333" stroke-width="0.13" textLength="31.20" lengthAdjust="spacingAndGlyphs">Pbo + Aza</text>
<line x1="289.90" y1="264.00" x2="292.90" y2="264.00" stroke="#555" stroke-width="0.85"/>
<line x1="291.40" y1="262.50" x2="291.40" y2="265.50" stroke="#555" stroke-width="0.85"/>
<text x="297.90" y="266.40" font-size="6.9" text-anchor="start" fill="#333" stroke="#333" stroke-width="0.13" textLength="29.20" lengthAdjust="spacingAndGlyphs">Censored</text>
<text x="188.15" y="358.50" font-size="6.6" text-anchor="start" fill="#333" stroke="#333" stroke-width="0.13" textLength="45.20" lengthAdjust="spacingAndGlyphs">Patients at Risk</text>
<text x="211.50" y="369.80" font-size="7.3" text-anchor="middle" fill="#BE3A5B" stroke="#BE3A5B" stroke-width="0.13" textLength="7.20" lengthAdjust="spacingAndGlyphs">41</text>
<text x="211.50" y="380.10" font-size="7.3" text-anchor="middle" fill="#2F6690" stroke="#2F6690" stroke-width="0.13" textLength="7.20" lengthAdjust="spacingAndGlyphs">15</text>
<text x="234.48" y="369.80" font-size="7.3" text-anchor="middle" fill="#BE3A5B" stroke="#BE3A5B" stroke-width="0.13" textLength="7.20" lengthAdjust="spacingAndGlyphs">22</text>
<text x="234.48" y="380.10" font-size="7.3" text-anchor="middle" fill="#2F6690" stroke="#2F6690" stroke-width="0.13" textLength="3.60" lengthAdjust="spacingAndGlyphs">7</text>
<text x="257.46" y="369.80" font-size="7.3" text-anchor="middle" fill="#BE3A5B" stroke="#BE3A5B" stroke-width="0.13" textLength="7.20" lengthAdjust="spacingAndGlyphs">15</text>
<text x="257.46" y="380.10" font-size="7.3" text-anchor="middle" fill="#2F6690" stroke="#2F6690" stroke-width="0.13" textLength="3.60" lengthAdjust="spacingAndGlyphs">3</text>
<text x="280.44" y="369.80" font-size="7.3" text-anchor="middle" fill="#BE3A5B" stroke="#BE3A5B" stroke-width="0.13" textLength="7.20" lengthAdjust="spacingAndGlyphs">10</text>
<text x="280.44" y="380.10" font-size="7.3" text-anchor="middle" fill="#2F6690" stroke="#2F6690" stroke-width="0.13" textLength="3.60" lengthAdjust="spacingAndGlyphs">0</text>
<text x="303.42" y="369.80" font-size="7.3" text-anchor="middle" fill="#BE3A5B" stroke="#BE3A5B" stroke-width="0.13" textLength="3.60" lengthAdjust="spacingAndGlyphs">7</text>
<text x="303.42" y="380.10" font-size="7.3" text-anchor="middle" fill="#2F6690" stroke="#2F6690" stroke-width="0.13" textLength="3.60" lengthAdjust="spacingAndGlyphs">0</text>
<text x="326.40" y="369.80" font-size="7.3" text-anchor="middle" fill="#BE3A5B" stroke="#BE3A5B" stroke-width="0.13" textLength="3.60" lengthAdjust="spacingAndGlyphs">0</text>
<text x="326.40" y="380.10" font-size="7.3" text-anchor="middle" fill="#2F6690" stroke="#2F6690" stroke-width="0.13" textLength="3.60" lengthAdjust="spacingAndGlyphs">0</text>
<line x1="187.70" y1="384.40" x2="339.20" y2="384.40" stroke="#555" stroke-width="1.1"/>
<line x1="187.70" y1="403.30" x2="339.20" y2="403.30" stroke="#555" stroke-width="1.0"/>
<line x1="187.70" y1="425.30" x2="339.20" y2="425.30" stroke="#555" stroke-width="1.1"/>
<line x1="231.60" y1="384.40" x2="231.60" y2="425.30" stroke="#555" stroke-width="1.0"/>
<line x1="247.20" y1="384.40" x2="247.20" y2="425.30" stroke="#555" stroke-width="1.0"/>
<line x1="274.10" y1="384.40" x2="274.10" y2="425.30" stroke="#555" stroke-width="1.0"/>
<text x="188.10" y="398.90" font-size="6.6" text-anchor="start" fill="#333" stroke="#333" stroke-width="0.13" textLength="38.50" lengthAdjust="spacingAndGlyphs">Intermediate</text>
<text x="239.40" y="398.90" font-size="6.6" text-anchor="middle" fill="#333" stroke="#333" stroke-width="0.13">n</text>
<text x="260.60" y="398.90" font-size="6.6" text-anchor="middle" fill="#333" stroke="#333" stroke-width="0.13" textLength="19.80" lengthAdjust="spacingAndGlyphs">Events</text>
<text x="308.20" y="392.20" font-size="6.6" text-anchor="middle" fill="#333" stroke="#333" stroke-width="0.13" textLength="60.00" lengthAdjust="spacingAndGlyphs">Median OS, months</text>
<text x="308.20" y="400.90" font-size="6.6" text-anchor="middle" fill="#333" stroke="#333" stroke-width="0.13" textLength="25.40" lengthAdjust="spacingAndGlyphs">(95% CI)</text>
<text x="187.90" y="411.80" font-size="6.6" text-anchor="start" fill="#333" stroke="#333" stroke-width="0.13" textLength="31.30" lengthAdjust="spacingAndGlyphs">Ven + Aza</text>
<text x="239.20" y="411.80" font-size="6.6" text-anchor="middle" fill="#333" stroke="#333" stroke-width="0.13" textLength="7.60" lengthAdjust="spacingAndGlyphs">41</text>
<text x="260.70" y="411.80" font-size="6.6" text-anchor="middle" fill="#333" stroke="#333" stroke-width="0.13" textLength="7.60" lengthAdjust="spacingAndGlyphs">31</text>
<text x="308.00" y="411.80" font-size="6.6" text-anchor="middle" fill="#333" stroke="#333" stroke-width="0.13" textLength="44.30" lengthAdjust="spacingAndGlyphs">15.2 (7.9, 28.3)</text>
<text x="187.90" y="421.70" font-size="6.6" text-anchor="start" fill="#333" stroke="#333" stroke-width="0.13" textLength="31.30" lengthAdjust="spacingAndGlyphs">Pbo + Aza</text>
<text x="239.20" y="421.70" font-size="6.6" text-anchor="middle" fill="#333" stroke="#333" stroke-width="0.13" textLength="7.60" lengthAdjust="spacingAndGlyphs">15</text>
<text x="260.70" y="421.70" font-size="6.6" text-anchor="middle" fill="#333" stroke="#333" stroke-width="0.13" textLength="7.60" lengthAdjust="spacingAndGlyphs">15</text>
<text x="308.00" y="421.70" font-size="6.6" text-anchor="middle" fill="#333" stroke="#333" stroke-width="0.13" textLength="40.80" lengthAdjust="spacingAndGlyphs">9.1 (2.3, 18.7)</text>
<line x1="382.40" y1="323.30" x2="385.70" y2="323.30" stroke="#2b2b2b" stroke-width="1.0"/>
<text x="379.00" y="325.80" font-size="7.1" text-anchor="end" fill="#333" stroke="#333" stroke-width="0.13" textLength="3.40" lengthAdjust="spacingAndGlyphs">0</text>
<line x1="382.40" y1="305.97" x2="385.70" y2="305.97" stroke="#2b2b2b" stroke-width="1.0"/>
<text x="379.00" y="308.47" font-size="7.1" text-anchor="end" fill="#333" stroke="#333" stroke-width="0.13" textLength="6.80" lengthAdjust="spacingAndGlyphs">20</text>
<line x1="382.40" y1="288.64" x2="385.70" y2="288.64" stroke="#2b2b2b" stroke-width="1.0"/>
<text x="379.00" y="291.14" font-size="7.1" text-anchor="end" fill="#333" stroke="#333" stroke-width="0.13" textLength="6.80" lengthAdjust="spacingAndGlyphs">40</text>
<line x1="382.40" y1="271.31" x2="385.70" y2="271.31" stroke="#2b2b2b" stroke-width="1.0"/>
<text x="379.00" y="273.81" font-size="7.1" text-anchor="end" fill="#333" stroke="#333" stroke-width="0.13" textLength="6.80" lengthAdjust="spacingAndGlyphs">60</text>
<line x1="382.40" y1="253.98" x2="385.70" y2="253.98" stroke="#2b2b2b" stroke-width="1.0"/>
<text x="379.00" y="256.48" font-size="7.1" text-anchor="end" fill="#333" stroke="#333" stroke-width="0.13" textLength="6.80" lengthAdjust="spacingAndGlyphs">80</text>
<line x1="382.40" y1="236.65" x2="385.70" y2="236.65" stroke="#2b2b2b" stroke-width="1.0"/>
<text x="379.00" y="239.15" font-size="7.1" text-anchor="end" fill="#333" stroke="#333" stroke-width="0.13" textLength="10.20" lengthAdjust="spacingAndGlyphs">100</text>
<line x1="385.70" y1="323.30" x2="385.70" y2="326.50" stroke="#2b2b2b" stroke-width="1.0"/>
<text x="385.70" y="335.30" font-size="7.3" text-anchor="middle" fill="#333" stroke="#333" stroke-width="0.13" textLength="3.55" lengthAdjust="spacingAndGlyphs">0</text>
<line x1="408.68" y1="323.30" x2="408.68" y2="326.50" stroke="#2b2b2b" stroke-width="1.0"/>
<text x="408.68" y="335.30" font-size="7.3" text-anchor="middle" fill="#333" stroke="#333" stroke-width="0.13" textLength="7.10" lengthAdjust="spacingAndGlyphs">10</text>
<line x1="431.66" y1="323.30" x2="431.66" y2="326.50" stroke="#2b2b2b" stroke-width="1.0"/>
<text x="431.66" y="335.30" font-size="7.3" text-anchor="middle" fill="#333" stroke="#333" stroke-width="0.13" textLength="7.10" lengthAdjust="spacingAndGlyphs">20</text>
<line x1="454.64" y1="323.30" x2="454.64" y2="326.50" stroke="#2b2b2b" stroke-width="1.0"/>
<text x="454.64" y="335.30" font-size="7.3" text-anchor="middle" fill="#333" stroke="#333" stroke-width="0.13" textLength="7.10" lengthAdjust="spacingAndGlyphs">30</text>
<line x1="477.62" y1="323.30" x2="477.62" y2="326.50" stroke="#2b2b2b" stroke-width="1.0"/>
<text x="477.62" y="335.30" font-size="7.3" text-anchor="middle" fill="#333" stroke="#333" stroke-width="0.13" textLength="7.10" lengthAdjust="spacingAndGlyphs">40</text>
<line x1="500.60" y1="323.30" x2="500.60" y2="326.50" stroke="#2b2b2b" stroke-width="1.0"/>
<text x="500.60" y="335.30" font-size="7.3" text-anchor="middle" fill="#333" stroke="#333" stroke-width="0.13" textLength="7.10" lengthAdjust="spacingAndGlyphs">50</text>
<text x="359.90000000000003" y="278.5" font-size="8.9" text-anchor="middle" fill="#333" stroke="#333" stroke-width="0.13" transform="rotate(-90 359.90000000000003 278.5)" dy="3.1" textLength="56.5" lengthAdjust="spacingAndGlyphs">Overall survival, %</text>
<text x="444.70" y="347.70" font-size="9.0" text-anchor="middle" fill="#333" stroke="#333" stroke-width="0.05" textLength="23.50" lengthAdjust="spacingAndGlyphs">Months</text>
<text x="444.50" y="220.70" font-size="8.4" text-anchor="middle" fill="#222" stroke="#222" stroke-width="0.05" textLength="32.40" lengthAdjust="spacingAndGlyphs">Adverse</text>
<text x="444.60" y="228.50" font-size="6.3" text-anchor="middle" fill="#333" stroke="#333" stroke-width="0.13" textLength="59.20" lengthAdjust="spacingAndGlyphs">HR 0.64 (0.49, 0.84)</text>
<line x1="388.20" y1="279.98" x2="502.44" y2="279.98" stroke="#7a7a7a" stroke-width="1.5" stroke-dasharray="1.9 2.0"/>
<g transform="translate(348.10,0)">
<path d="M37.65,236.20 H37.80 V237.57 H37.95 V238.93 H38.10 V240.30 H38.80 V241.35 H39.50 V242.40 H39.82 V243.62 H40.15 V244.85 H40.47 V246.08 H40.80 V247.30 H41.27 V248.67 H41.73 V250.03 H42.20 V251.40 H42.67 V252.57 H43.13 V253.73 H43.60 V254.90 H43.95 V255.95 H44.30 V257.00 H45.35 V258.40 H46.40 V259.80 H47.45 V261.20 H48.50 V262.60 H49.20 V263.95 H49.90 V265.30 H50.37 V266.47 H50.83 V267.63 H51.30 V268.80 H51.65 V270.20 H52.00 V271.60 H53.00 V272.65 H54.00 V273.70 H55.05 V275.05 H56.10 V276.40 H57.15 V277.80 H58.20 V279.20 H59.25 V280.25 H60.30 V281.30 H61.90 V282.80 H62.95 V284.40 H64.00 V286.00 H64.70 V287.37 H65.40 V288.73 H66.10 V290.10 H66.80 V291.50 H67.50 V292.90 H68.20 V294.30 H68.87 V295.47 H69.53 V296.63 H70.20 V297.80 H71.25 V299.20 H72.30 V300.60 H73.35 V301.60 H74.40 V302.60 H75.80 V303.65 H77.20 V304.70 H78.60 V305.40 H80.00 V306.10 H81.35 V306.45 H82.70 V306.80 H84.10 V307.15 H85.50 V307.50 H86.90 V308.20 H88.30 V308.90 H89.70 V309.60 H91.10 V310.30 H92.45 V310.65 H93.80 V311.00 H95.20 V311.45 H96.60 V311.90 H98.00 V312.50 H99.40 V313.10 H100.80 V313.75 H102.20 V314.40 H103.20 V314.80 H104.20 V315.20 H105.51 V315.20 H106.83 V315.20 H108.14 V315.20 H109.46 V315.20 H110.77 V315.20 H112.09 V315.20 H113.40 V315.20 H115.20 V316.50 H116.47 V316.53 H117.74 V316.56 H119.01 V316.59 H120.28 V316.62 H121.55 V316.65 H122.82 V316.68 H124.09 V316.71 H125.36 V316.74 H126.63 V316.77 H127.90 V316.80 H128.75 V318.10 H129.60 V319.40 H130.75 V319.40 H131.90 V319.40 H133.05 V319.40 H134.20 V319.40 H134.60 V320.70 H135.00 V322.00 H135.40 V323.30" fill="none" stroke="#22476B" stroke-width="1.45" stroke-linejoin="miter"/>
<path d="M37.65,236.20 H37.80 V237.57 H37.95 V238.93 H38.10 V240.30 H38.80 V241.35 H39.50 V242.40 H39.82 V243.62 H40.15 V244.85 H40.47 V246.08 H40.80 V247.30 H41.27 V248.67 H41.73 V250.03 H42.20 V251.40 H42.67 V252.57 H43.13 V253.73 H43.60 V254.90 H43.95 V255.95 H44.30 V257.00 H45.70 V258.40 H46.75 V258.75 H47.80 V259.10 H48.85 V260.15 H49.90 V261.20 H50.95 V262.55 H52.00 V263.90 H52.90 V265.07 H53.80 V266.23 H54.70 V267.40 H56.10 V268.45 H57.50 V269.50 H58.90 V270.55 H60.30 V271.60 H61.10 V272.90 H61.90 V274.20 H62.83 V275.33 H63.77 V276.47 H64.70 V277.60 H66.10 V279.00 H67.50 V280.40 H68.85 V281.80 H70.20 V283.20 H71.60 V283.55 H73.00 V283.90 H74.40 V284.45 H75.80 V285.00 H77.20 V285.70 H78.60 V286.40 H79.95 V287.25 H81.30 V288.10 H82.70 V289.35 H84.10 V290.60 H85.50 V291.05 H86.90 V291.50 H88.30 V292.55 H89.70 V293.60 H91.10 V294.65 H92.50 V295.70 H93.85 V296.40 H95.20 V297.10 H96.60 V297.80 H98.00 V298.50 H99.40 V299.20 H100.80 V299.90 H102.20 V300.35 H103.60 V300.80 H105.05 V301.15 H106.50 V301.50 H107.67 V301.70 H108.83 V301.90 H110.00 V302.10 H111.45 V302.70 H112.90 V303.30 H114.30 V304.75 H115.70 V306.20 H116.87 V306.27 H118.03 V306.33 H119.20 V306.40 H120.37 V306.70 H121.53 V307.00 H122.70 V307.30 H123.83 V307.70 H124.97 V308.10 H126.10 V308.50 H127.27 V309.17 H128.43 V309.83 H129.60 V310.50 H131.05 V311.50 H132.50 V312.50 H133.95 V312.80 H135.40 V313.10 H136.71 V313.10 H138.03 V313.10 H139.34 V313.10 H140.66 V313.10 H141.97 V313.10 H143.29 V313.10 H144.60 V313.10 H145.70 V314.80 H147.15 V314.90 H148.60 V315.00 H150.05 V315.10 H151.50 V315.20" fill="none" stroke="#B8143E" stroke-width="1.45" stroke-linejoin="miter"/>
<line x1="136.90" y1="311.90" x2="136.90" y2="314.30" stroke="#B8143E" stroke-width="0.8"/>
<line x1="139.10" y1="311.90" x2="139.10" y2="314.30" stroke="#B8143E" stroke-width="0.8"/>
<line x1="141.30" y1="311.90" x2="141.30" y2="314.30" stroke="#B8143E" stroke-width="0.8"/>
<line x1="143.40" y1="311.90" x2="143.40" y2="314.30" stroke="#B8143E" stroke-width="0.8"/>
<line x1="148.40" y1="313.80" x2="148.40" y2="316.20" stroke="#B8143E" stroke-width="0.8"/>
<line x1="151.30" y1="314.00" x2="151.30" y2="316.40" stroke="#B8143E" stroke-width="0.8"/>
<line x1="122.40" y1="306.00" x2="122.40" y2="308.40" stroke="#B8143E" stroke-width="0.8"/>
<line x1="103.90" y1="300.10" x2="103.90" y2="302.50" stroke="#B8143E" stroke-width="0.8"/>
</g>
<line x1="385.70" y1="234.00" x2="385.70" y2="323.60" stroke="#2b2b2b" stroke-width="1.2"/>
<line x1="385.10" y1="323.30" x2="503.70" y2="323.30" stroke="#2b2b2b" stroke-width="1.2"/>
<line x1="462.20" y1="250.30" x2="469.00" y2="250.30" stroke="#B8143E" stroke-width="1.3"/>
<text x="472.10" y="252.70" font-size="6.9" text-anchor="start" fill="#333" stroke="#333" stroke-width="0.13" textLength="31.20" lengthAdjust="spacingAndGlyphs">Ven + Aza</text>
<line x1="462.20" y1="257.00" x2="469.00" y2="257.00" stroke="#22476B" stroke-width="1.3"/>
<text x="472.10" y="259.40" font-size="6.9" text-anchor="start" fill="#333" stroke="#333" stroke-width="0.13" textLength="31.20" lengthAdjust="spacingAndGlyphs">Pbo + Aza</text>
<line x1="464.10" y1="264.00" x2="467.10" y2="264.00" stroke="#555" stroke-width="0.85"/>
<line x1="465.60" y1="262.50" x2="465.60" y2="265.50" stroke="#555" stroke-width="0.85"/>
<text x="472.10" y="266.40" font-size="6.9" text-anchor="start" fill="#333" stroke="#333" stroke-width="0.13" textLength="29.20" lengthAdjust="spacingAndGlyphs">Censored</text>
<text x="362.35" y="358.50" font-size="6.6" text-anchor="start" fill="#333" stroke="#333" stroke-width="0.13" textLength="45.20" lengthAdjust="spacingAndGlyphs">Patients at Risk</text>
<text x="385.70" y="369.80" font-size="7.3" text-anchor="middle" fill="#BE3A5B" stroke="#BE3A5B" stroke-width="0.13" textLength="10.80" lengthAdjust="spacingAndGlyphs">203</text>
<text x="385.70" y="380.10" font-size="7.3" text-anchor="middle" fill="#2F6690" stroke="#2F6690" stroke-width="0.13" textLength="7.20" lengthAdjust="spacingAndGlyphs">85</text>
<text x="408.68" y="369.80" font-size="7.3" text-anchor="middle" fill="#BE3A5B" stroke="#BE3A5B" stroke-width="0.13" textLength="10.80" lengthAdjust="spacingAndGlyphs">115</text>
<text x="408.68" y="380.10" font-size="7.3" text-anchor="middle" fill="#2F6690" stroke="#2F6690" stroke-width="0.13" textLength="7.20" lengthAdjust="spacingAndGlyphs">40</text>
<text x="431.66" y="369.80" font-size="7.3" text-anchor="middle" fill="#BE3A5B" stroke="#BE3A5B" stroke-width="0.13" textLength="7.20" lengthAdjust="spacingAndGlyphs">74</text>
<text x="431.66" y="380.10" font-size="7.3" text-anchor="middle" fill="#2F6690" stroke="#2F6690" stroke-width="0.13" textLength="7.20" lengthAdjust="spacingAndGlyphs">16</text>
<text x="454.64" y="369.80" font-size="7.3" text-anchor="middle" fill="#BE3A5B" stroke="#BE3A5B" stroke-width="0.13" textLength="7.20" lengthAdjust="spacingAndGlyphs">39</text>
<text x="454.64" y="380.10" font-size="7.3" text-anchor="middle" fill="#2F6690" stroke="#2F6690" stroke-width="0.13" textLength="3.60" lengthAdjust="spacingAndGlyphs">7</text>
<text x="477.62" y="369.80" font-size="7.3" text-anchor="middle" fill="#BE3A5B" stroke="#BE3A5B" stroke-width="0.13" textLength="7.20" lengthAdjust="spacingAndGlyphs">18</text>
<text x="477.62" y="380.10" font-size="7.3" text-anchor="middle" fill="#2F6690" stroke="#2F6690" stroke-width="0.13" textLength="3.60" lengthAdjust="spacingAndGlyphs">3</text>
<text x="500.60" y="369.80" font-size="7.3" text-anchor="middle" fill="#BE3A5B" stroke="#BE3A5B" stroke-width="0.13" textLength="3.60" lengthAdjust="spacingAndGlyphs">0</text>
<text x="500.60" y="380.10" font-size="7.3" text-anchor="middle" fill="#2F6690" stroke="#2F6690" stroke-width="0.13" textLength="3.60" lengthAdjust="spacingAndGlyphs">0</text>
<line x1="361.90" y1="384.40" x2="513.40" y2="384.40" stroke="#555" stroke-width="1.1"/>
<line x1="361.90" y1="403.30" x2="513.40" y2="403.30" stroke="#555" stroke-width="1.0"/>
<line x1="361.90" y1="425.30" x2="513.40" y2="425.30" stroke="#555" stroke-width="1.1"/>
<line x1="405.80" y1="384.40" x2="405.80" y2="425.30" stroke="#555" stroke-width="1.0"/>
<line x1="421.40" y1="384.40" x2="421.40" y2="425.30" stroke="#555" stroke-width="1.0"/>
<line x1="448.30" y1="384.40" x2="448.30" y2="425.30" stroke="#555" stroke-width="1.0"/>
<text x="362.30" y="398.90" font-size="6.6" text-anchor="start" fill="#333" stroke="#333" stroke-width="0.13" textLength="24.00" lengthAdjust="spacingAndGlyphs">Adverse</text>
<text x="413.60" y="398.90" font-size="6.6" text-anchor="middle" fill="#333" stroke="#333" stroke-width="0.13">n</text>
<text x="434.80" y="398.90" font-size="6.6" text-anchor="middle" fill="#333" stroke="#333" stroke-width="0.13" textLength="19.80" lengthAdjust="spacingAndGlyphs">Events</text>
<text x="482.40" y="392.20" font-size="6.6" text-anchor="middle" fill="#333" stroke="#333" stroke-width="0.13" textLength="60.00" lengthAdjust="spacingAndGlyphs">Median OS, months</text>
<text x="482.40" y="400.90" font-size="6.6" text-anchor="middle" fill="#333" stroke="#333" stroke-width="0.13" textLength="25.40" lengthAdjust="spacingAndGlyphs">(95% CI)</text>
<text x="362.10" y="411.80" font-size="6.6" text-anchor="start" fill="#333" stroke="#333" stroke-width="0.13" textLength="31.30" lengthAdjust="spacingAndGlyphs">Ven + Aza</text>
<text x="413.40" y="411.80" font-size="6.6" text-anchor="middle" fill="#333" stroke="#333" stroke-width="0.13" textLength="11.40" lengthAdjust="spacingAndGlyphs">203</text>
<text x="434.90" y="411.80" font-size="6.6" text-anchor="middle" fill="#333" stroke="#333" stroke-width="0.13" textLength="11.40" lengthAdjust="spacingAndGlyphs">167</text>
<text x="482.20" y="411.80" font-size="6.6" text-anchor="middle" fill="#333" stroke="#333" stroke-width="0.13" textLength="49.00" lengthAdjust="spacingAndGlyphs">12.7 (10.4, 17.6)</text>
<text x="362.10" y="421.70" font-size="6.6" text-anchor="start" fill="#333" stroke="#333" stroke-width="0.13" textLength="31.30" lengthAdjust="spacingAndGlyphs">Pbo + Aza</text>
<text x="413.40" y="421.70" font-size="6.6" text-anchor="middle" fill="#333" stroke="#333" stroke-width="0.13" textLength="7.60" lengthAdjust="spacingAndGlyphs">85</text>
<text x="434.90" y="421.70" font-size="6.6" text-anchor="middle" fill="#333" stroke="#333" stroke-width="0.13" textLength="7.60" lengthAdjust="spacingAndGlyphs">81</text>
<text x="482.20" y="421.70" font-size="6.6" text-anchor="middle" fill="#333" stroke="#333" stroke-width="0.13" textLength="41.60" lengthAdjust="spacingAndGlyphs">9.3 (6.1, 12.4)</text>
<rect x="0.5" y="0.5" width="519" height="431" fill="none" stroke="#4a4a4a" stroke-width="1"/>
</svg>
</body></html>
